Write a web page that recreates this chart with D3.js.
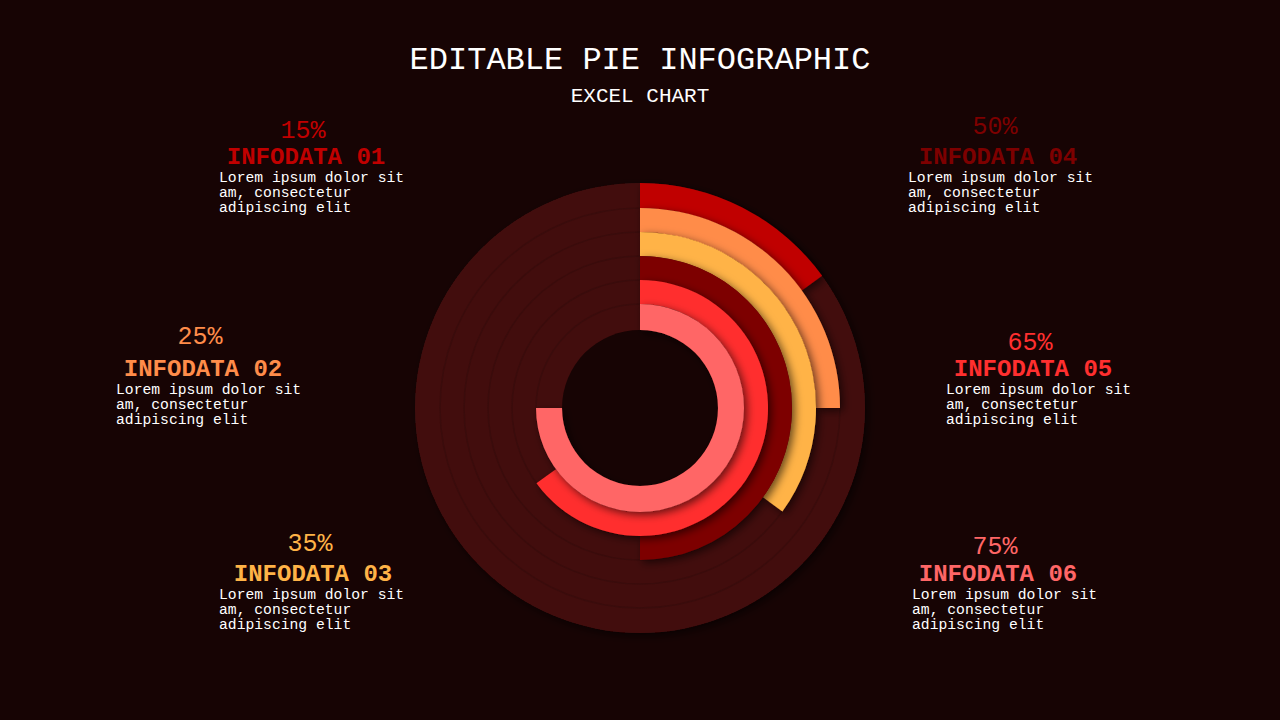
<!DOCTYPE html><html><head><meta charset="utf-8">
<script src="https://cdn.jsdelivr.net/npm/d3@7"></script>
<style>body{margin:0;background:#170404}svg{display:block}</style></head><body>
<svg id="c" width="1280" height="720"></svg>
<script>
const categories=["INFODATA 01","INFODATA 02","INFODATA 03","INFODATA 04","INFODATA 05","INFODATA 06"];
const values=[15,25,35,50,65,75];
const colors=["#c00000","#ff8c4a","#ffb347","#7d0000","#ff2f2f","#ff6666"];
const labelPos=[[303,133,157,219,181],[200,339,369,116,393],[310,546,574,219,598],[995,129,157,908,181],[1030,345,369,946,393],[995,549,574,912,598]];
const body=["Lorem ipsum dolor sit","am, consectetur","adipiscing elit"];
const svg=d3.select("#c");
svg.append("rect").attr("width",1280).attr("height",720).attr("fill","#170404");
const defs=svg.append("defs");
const f=defs.append("filter").attr("id","sh").attr("x","-20%").attr("y","-20%").attr("width","140%").attr("height","140%");
f.append("feDropShadow").attr("dx",3).attr("dy",3).attr("stdDeviation",4).attr("flood-color","#000").attr("flood-opacity",0.6);
svg.append("text").attr("x",640).attr("y",69).attr("text-anchor","middle").attr("fill","#fff").attr("font-family","Liberation Mono").attr("font-size",32).text("EDITABLE PIE INFOGRAPHIC");
svg.append("text").attr("x",640).attr("y",102).attr("text-anchor","middle").attr("fill","#fff").attr("font-family","Liberation Mono").attr("font-size",21).text("EXCEL CHART");
const g=svg.append("g").attr("transform","translate(640,408)");
const radii=[225,200,176,152,128,104,78];
g.append("circle").attr("r",225).attr("fill","#430f0f").attr("filter","url(#sh)");
radii.slice(1,6).forEach(r=>g.append("circle").attr("r",r).attr("fill","none").attr("stroke","#3a0c0c").attr("stroke-width",1.5));
g.append("circle").attr("r",78).attr("fill","#170404");
const ang=d3.scaleLinear().domain([0,100]).range([0,2*Math.PI]);
values.forEach((v,i)=>{
  const arc=d3.arc().innerRadius(radii[i+1]).outerRadius(radii[i]).startAngle(0).endAngle(ang(v));
  g.append("path").attr("d",arc()).attr("fill",colors[i]).attr("filter","url(#sh)");
});
categories.forEach((c,i)=>{
  const [cx,py,ty,bx,by]=labelPos[i];
  svg.append("text").attr("x",cx).attr("y",py+5).attr("text-anchor","middle").attr("fill",colors[i]).attr("font-family","Liberation Mono").attr("font-size",25).text(values[i]+"%");
  svg.append("text").attr("x",cx+3).attr("y",ty+7).attr("text-anchor","middle").attr("fill",colors[i]).attr("font-family","Liberation Mono").attr("font-weight","bold").attr("font-size",24).text(c);
  body.forEach((l,j)=>svg.append("text").attr("x",bx).attr("y",by+0.5+j*15.3).attr("fill","#fff").attr("font-family","Liberation Mono").attr("font-size",14.7).text(l));
});
</script></body></html>
